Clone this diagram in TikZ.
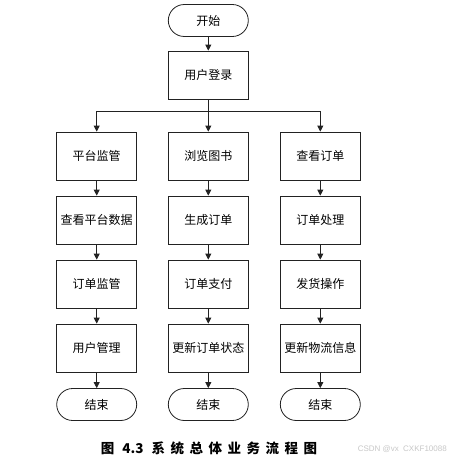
\documentclass[tikz,border=0pt]{standalone}
\usepackage{fontspec}
\setmainfont{Liberation Sans}
\newfontfamily\cjk{Noto Sans CJK SC}
\usetikzlibrary{arrows.meta}
\definecolor{lineC}{HTML}{222222}
\definecolor{wm}{HTML}{C8C8C8}
\begin{document}
\begin{tikzpicture}[x=1pt,y=-1pt,
  box/.style={draw=lineC,line width=0.8pt,minimum width=80pt,minimum height=48pt,inner sep=0pt,font=\cjk\fontsize{12}{14}\selectfont},
  term/.style={draw=lineC,line width=0.8pt,minimum width=80pt,minimum height=32pt,inner sep=0pt,rounded corners=16pt,font=\cjk\fontsize{12}{14}\selectfont},
  arr/.style={draw=lineC,line width=0.8pt,-{Triangle[length=6pt,width=6pt]}}]
\useasboundingbox (0,0) rectangle (451,461);
\fill[white] (0,0) rectangle (451,461);
\def\xa{96.7}\def\xb{208.3}\def\xc{320.3}
\node[term] (start) at (\xb,20.5) {开始};
\node[box] (login) at (\xb,75) {用户登录};
\node[box] (a1) at (\xa,156) {平台监管};
\node[box] (a2) at (\xa,220) {查看平台数据};
\node[box] (a3) at (\xa,284) {订单监管};
\node[box] (a4) at (\xa,348) {用户管理};
\node[term] (ae) at (\xa,404.5) {结束};
\node[box] (b1) at (\xb,156) {浏览图书};
\node[box] (b2) at (\xb,220) {生成订单};
\node[box] (b3) at (\xb,284) {订单支付};
\node[box] (b4) at (\xb,348) {更新订单状态};
\node[term] (be) at (\xb,404.5) {结束};
\node[box] (c1) at (\xc,156) {查看订单};
\node[box] (c2) at (\xc,220) {订单处理};
\node[box] (c3) at (\xc,284) {发货操作};
\node[box] (c4) at (\xc,348) {更新物流信息};
\node[term] (ce) at (\xc,404.5) {结束};
\coordinate (br) at (\xb,111.7);
\draw[arr] (start) -- (login);
\draw[arr] (login) -- (b1);
\draw[arr] (login.south) -- (br) -| (a1.north);
\draw[arr] (br) -| (c1.north);
\foreach \c in {a,b,c}{
  \draw[arr] (\c1) -- (\c2);
  \draw[arr] (\c2) -- (\c3);
  \draw[arr] (\c3) -- (\c4);
  \draw[arr] (\c4) -- (\c e);
}
\node[font=\cjk\bfseries\fontsize{13.5}{15}\selectfont] (cap) at (209,448.5)
  {图\hspace{8pt}4.3\hspace{8pt}系\hspace{5.5pt}统\hspace{5.5pt}总\hspace{5.5pt}体\hspace{5.5pt}业\hspace{5.5pt}务\hspace{5.5pt}流\hspace{5.5pt}程\hspace{5.5pt}图};
\node[anchor=east,text=wm,font=\fontsize{8}{10}\selectfont,inner sep=0pt] (wmk) at (447,449) {CSDN @vx\ \ CXKF10088};
\end{tikzpicture}
\end{document}
